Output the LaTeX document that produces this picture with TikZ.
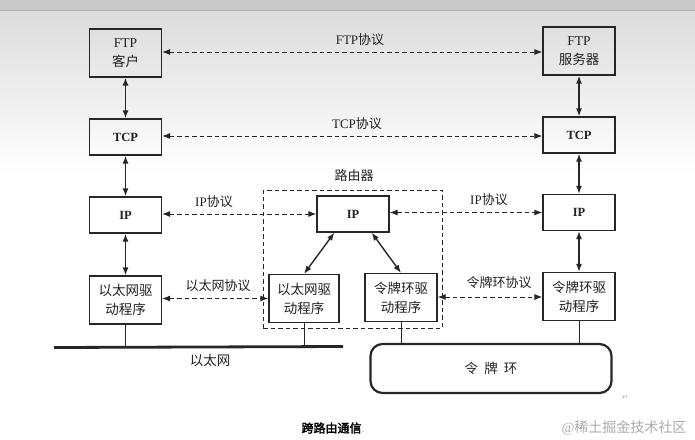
\documentclass[tikz,border=0pt]{standalone}
\usepackage{fontspec}
\setmainfont{Liberation Serif}
\newfontfamily\cjk[AutoFakeBold=2.5]{Noto Sans CJK SC}
\newfontfamily\dejavu{DejaVu Sans}
\usetikzlibrary{arrows.meta}
\definecolor{linec}{HTML}{262626}
\definecolor{textc}{HTML}{222222}
\definecolor{bgtop}{HTML}{DCDCDC}
\begin{document}
\begin{tikzpicture}[x=1pt,y=-1pt,
  box/.style={draw=linec, line width=1.2pt, minimum width=72pt, inner sep=0pt, align=center, text=textc, font=\fontsize{13.5}{19}\selectfont},
  tallbox/.style={box, minimum height=48pt},
  shortbox/.style={box, minimum height=36pt, font=\fontsize{12.5}{14}\selectfont\bfseries},
  proto/.style={draw=linec, line width=1pt, dash pattern=on 4.5pt off 3pt, {Latex[length=8pt,width=6pt]}-{Latex[length=8pt,width=6pt]}},
  link/.style={draw=linec, line width=1.4pt, {Latex[length=8pt,width=6pt]}-{Latex[length=8pt,width=6pt]}},
  drop/.style={draw=linec, line width=0.8pt},
  lbl/.style={text=textc, font=\fontsize{13}{14}\selectfont, inner sep=1pt}]
\useasboundingbox (0,0) rectangle (695,439);
% background
\fill[white] (0,0) rectangle (695,439);
\shade[top color=bgtop, bottom color=white] (0,10) rectangle (695,175);
\fill[bgtop!92!black] (0,0) rectangle (695,10);
\draw[gray!60, line width=0.8pt] (0,10) -- (695,10);

% left column
\node[tallbox] (ftpc) at (125.5,53) {FTP\\{\cjk 客户}};
\node[shortbox] (tcpl) at (125.5,137) {TCP};
\node[shortbox] (ipl) at (125.5,215) {IP};
\node[tallbox] (ethl) at (125.5,300) {{\cjk 以太网驱}\\{\cjk 动程序}};

% right column
\node[tallbox] (ftps) at (579,51) {FTP\\{\cjk 服务器}};
\node[shortbox] (tcpr) at (579,135) {TCP};
\node[shortbox] (ipr) at (579,212.5) {IP};
\node[tallbox] (tokr) at (579,296.5) {{\cjk 令牌环驱}\\{\cjk 动程序}};

% router
\node[draw=linec, line width=1pt, dash pattern=on 4.5pt off 3pt, minimum width=179pt, minimum height=138pt, inner sep=0pt] (router) at (352.5,259) {};
\node[lbl, anchor=south] (routerlbl) at (354,183) {\cjk 路由器};
\node[shortbox] (ipm) at (353,214) {IP};
\node[tallbox, minimum width=70pt] (ethm) at (304,298.5) {{\cjk 以太网驱}\\{\cjk 动程序}};
\node[tallbox] (tokm) at (401,297.5) {{\cjk 令牌环驱}\\{\cjk 动程序}};

% vertical links
\draw[link] (ftpc) -- (tcpl);
\draw[link] (tcpl) -- (ipl);
\draw[link] (ipl) -- (ethl);
\draw[link] (ftps) -- (tcpr);
\draw[link] (tcpr) -- (ipr);
\draw[link] (ipr) -- (tokr);
\draw[link] ([xshift=18pt]ipm.south west) -- (ethm.north);
\draw[link] ([xshift=-18pt]ipm.south east) -- (tokm.north);

% protocol links
\draw[proto] (ftpc.east |- 0,52) -- (ftps.west |- 0,52);
\node[lbl] (ftpp) at (360,40) {FTP{\cjk 协议}};
\draw[proto] (tcpl.east |- 0,136) -- (tcpr.west |- 0,136);
\node[lbl] (tcpp) at (357,124) {TCP{\cjk 协议}};
\draw[proto] (ipl.east |- 0,214) -- (ipm.west |- 0,214);
\node[lbl] (ippl) at (214,202) {IP{\cjk 协议}};
\draw[proto] (ipm.east |- 0,212.5) -- (ipr.west |- 0,212.5);
\node[lbl] (ippr) at (489,200) {IP{\cjk 协议}};
\draw[proto] (ethl.east |- 0,298.5) -- (ethm.west |- 0,298.5);
\node[lbl] (ethp) at (218,285.5) {\cjk 以太网协议};
\draw[proto] (tokm.east |- 0,297) -- (tokr.west |- 0,297);
\node[lbl] (tokp) at (499,283) {\cjk 令牌环协议};

% ethernet
\coordinate (ethA) at (54,347.5);
\coordinate (ethB) at (343,346.5);
\draw[linec, line width=2.8pt] (ethA) -- (ethB);
\draw[drop] (ethl.south) -- (ethl.south |- 0,347);
\draw[drop] (ethm.south) -- (ethm.south |- 0,347);
\node[lbl, font=\fontsize{13.5}{14}\selectfont] (ethnet) at (210,360) {\cjk 以太网};

% token ring
\node[draw=linec, line width=2.2pt, rounded corners=12pt, minimum width=241pt, minimum height=49pt, inner sep=0pt, text=textc, font=\fontsize{13.5}{14}\selectfont] (ring) at (491,368.5) {\cjk 令\ \ 牌\ \ 环};
\draw[drop] (tokm.south) -- (tokm.south |- ring.north);
\draw[drop] (tokr.south) -- (tokr.south |- ring.north);
\node[text=gray!70, font=\dejavu\fontsize{7}{8}\selectfont] (ret) at (625,397) {↵};

% caption and watermark
\node[text=black, font=\fontsize{12}{14}\selectfont] (cap) at (333,428) {{\cjk\bfseries 跨路由通信}\textcolor{gray!60}{.}};
\node[text=gray!65, font=\fontsize{14}{15}\selectfont, anchor=east] (wm) at (690,428) {@{\cjk 稀土掘金技术社区}};
\end{tikzpicture}
\end{document}
